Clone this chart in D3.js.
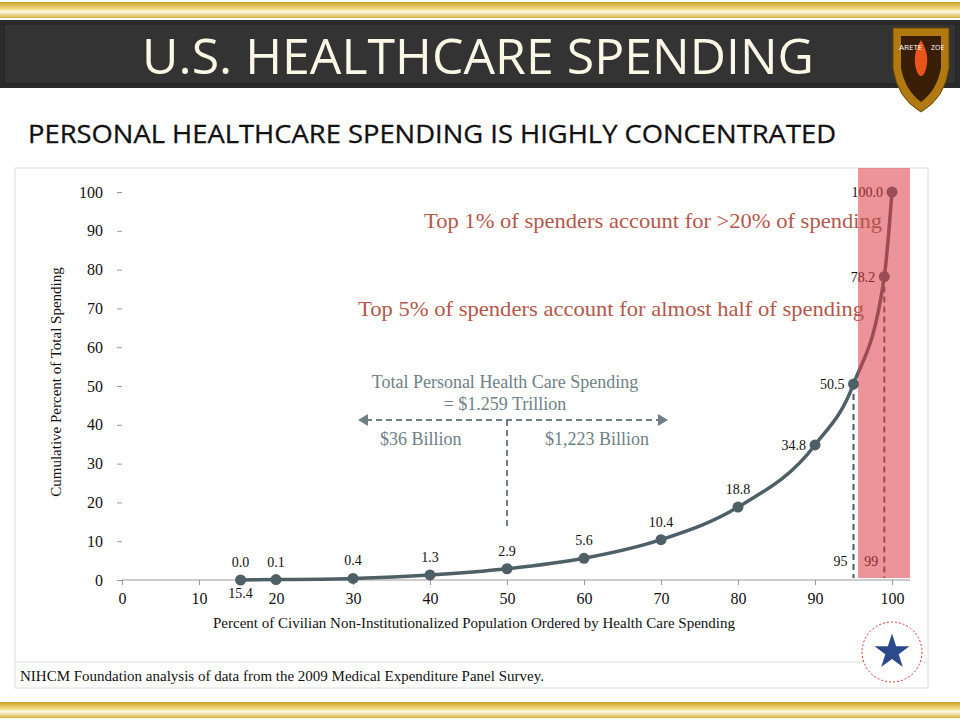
<!DOCTYPE html>
<html><head><meta charset="utf-8">
<script src="https://cdn.jsdelivr.net/npm/d3@7"></script>
<style>body{margin:0;background:#fff}svg{display:block}</style>
</head><body><div id="chart"></div>
<script>
const pctPop = [15.4, 20, 30, 40, 50, 60, 70, 80, 90, 95, 99, 100];
const cumSpend = [0.0, 0.1, 0.4, 1.3, 2.9, 5.6, 10.4, 18.8, 34.8, 50.5, 78.2, 100.0];
const xTicks = [0, 10, 20, 30, 40, 50, 60, 70, 80, 90, 100];
const yTicks = [0, 10, 20, 30, 40, 50, 60, 70, 80, 90, 100];

const svg = d3.select("#chart").append("svg").attr("width", 960).attr("height", 720);

// gold bars
const gold = svg.append("defs").append("linearGradient").attr("id", "gold").attr("x1", 0).attr("x2", 0).attr("y1", 0).attr("y2", 1);
gold.append("stop").attr("offset", "0%").attr("stop-color", "#c9a227");
gold.append("stop").attr("offset", "45%").attr("stop-color", "#f5e08a");
gold.append("stop").attr("offset", "60%").attr("stop-color", "#fffbe8");
gold.append("stop").attr("offset", "100%").attr("stop-color", "#d6b13a");
svg.append("rect").attr("x", 0).attr("y", 2).attr("width", 960).attr("height", 16).attr("fill", "url(#gold)");
svg.append("rect").attr("x", 0).attr("y", 702).attr("width", 960).attr("height", 16).attr("fill", "url(#gold)");

// title band
svg.append("rect").attr("x", 0).attr("y", 20).attr("width", 960).attr("height", 68).attr("fill", "#2b2b2b");
svg.append("rect").attr("x", 4).attr("y", 24).attr("width", 952).attr("height", 60).attr("fill", "#333").attr("stroke", "#222");
svg.append("text").attr("x", 478).attr("y", 74).attr("text-anchor", "middle")
  .attr("font-family", "Open Sans, sans-serif").attr("font-size", 50).attr("fill", "#fbf7e6")
  .text("U.S. HEALTHCARE SPENDING");

// logo shield
const logo = svg.append("g").attr("transform", "translate(921,68)");
logo.append("path").attr("d", "M-28,-40 L28,-40 L28,0 Q24,30 0,44 Q-24,30 -28,0 Z").attr("fill", "#b07a10").attr("stroke", "#6b4500");
logo.append("path").attr("d", "M-20,-32 L20,-32 L20,0 Q16,22 0,34 Q-16,22 -20,0 Z").attr("fill", "#3a1d05");
logo.append("path").attr("d", "M0,-28 Q10,-12 4,4 Q0,12 -4,4 Q-10,-12 0,-28Z").attr("fill", "#e8541a");
logo.append("text").attr("x", -22).attr("y", -18).attr("font-size", 8).attr("fill", "#fff").attr("font-family", "Open Sans").text("ARETE");
logo.append("text").attr("x", 10).attr("y", -18).attr("font-size", 7).attr("fill", "#fff").attr("font-family", "Open Sans").text("ZOE");

svg.append("text").attr("x", 28).attr("y", 143).attr("font-family", "Liberation Sans Narrow, Open Sans, sans-serif")
  .attr("font-size", 25).attr("fill", "#111").attr("textLength", 808).attr("lengthAdjust", "spacingAndGlyphs")
  .attr("stroke", "#111").attr("stroke-width", 0.3)
  .text("PERSONAL HEALTHCARE SPENDING IS HIGHLY CONCENTRATED");

// chart panel
svg.append("rect").attr("x", 15).attr("y", 168).attr("width", 913).attr("height", 520).attr("fill", "#fff").attr("stroke", "#ddd");

const x = d3.scaleLinear().domain([0, 100]).range([122, 892]);
const y = d3.scaleLinear().domain([0, 100]).range([580, 192]);
const serif = "Liberation Serif, Times New Roman, serif";

const xa = svg.append("g").attr("transform", "translate(0,580)")
  .call(d3.axisBottom(x).tickValues(xTicks).tickSize(5).tickPadding(8));
const ya = svg.append("g").attr("transform", "translate(122,0)")
  .call(d3.axisLeft(y).tickValues(yTicks).tickSize(5).tickPadding(14));
[xa, ya].forEach(a => {
  a.selectAll("path,line").attr("stroke", "#999");
  a.selectAll("text").attr("font-family", serif).attr("font-size", 16).attr("fill", "#111");
});
ya.select(".domain").remove();
xa.select(".domain").attr("d", "M122,0H910");

svg.append("text").attr("transform", "translate(61,382) rotate(-90)").attr("text-anchor", "middle")
  .attr("font-family", serif).attr("font-size", 15).attr("fill", "#111").text("Cumulative Percent of Total Spending");
svg.append("text").attr("x", 474).attr("y", 628).attr("text-anchor", "middle")
  .attr("font-family", serif).attr("font-size", 15).attr("fill", "#111")
  .text("Percent of Civilian Non-Institutionalized Population Ordered by Health Care Spending");

// dashed drop lines at 95 and 99
[95, 99].forEach((p, i) => {
  const v = cumSpend[pctPop.indexOf(p)];
  svg.append("line").attr("x1", x(p)).attr("x2", x(p)).attr("y1", y(v)).attr("y2", 578)
    .attr("stroke", "#4a5a60").attr("stroke-width", 2).attr("stroke-dasharray", "6,4");
  svg.append("text").attr("x", x(p) - 6).attr("y", 566).attr("text-anchor", "end")
    .attr("font-family", serif).attr("font-size", 14).attr("fill", "#111").text(p);
});

const line = d3.line().x((d, i) => x(pctPop[i])).y(d => y(d)).curve(d3.curveMonotoneX);
svg.append("path").datum(cumSpend).attr("d", line)
  .attr("fill", "none").attr("stroke", "#4f5f66").attr("stroke-width", 3.5);

svg.selectAll(".pt").data(cumSpend).enter().append("circle")
  .attr("cx", (d, i) => x(pctPop[i])).attr("cy", d => y(d)).attr("r", 5.5)
  .attr("fill", "#4f5f66");

svg.selectAll(".lbl").data(cumSpend).enter().append("text")
  .attr("x", (d, i) => pctPop[i] >= 90 ? x(pctPop[i]) - 9 : x(pctPop[i]))
  .attr("y", (d, i) => pctPop[i] >= 90 ? y(d) + 5 : y(d) - 13)
  .attr("text-anchor", (d, i) => pctPop[i] >= 90 ? "end" : "middle")
  .attr("font-family", serif).attr("font-size", 14).attr("fill", "#111")
  .text(d => d.toFixed(1));
svg.append("text").attr("x", x(15.4)).attr("y", 598).attr("text-anchor", "middle")
  .attr("font-family", serif).attr("font-size", 14).attr("fill", "#111").text("15.4");

// pink highlight band over the top 5%
svg.append("rect").attr("x", 858).attr("y", 168).attr("width", 52).attr("height", 410)
  .attr("fill", "#dc3c46").attr("opacity", 0.55);

// annotations
const red = "#b4574c";
svg.append("text").attr("x", 424).attr("y", 228).attr("font-family", serif).attr("font-size", 21).attr("fill", red)
  .attr("textLength", 458).attr("lengthAdjust", "spacingAndGlyphs")
  .text("Top 1% of spenders account for >20% of spending");
svg.append("text").attr("x", 358).attr("y", 316).attr("font-family", serif).attr("font-size", 21).attr("fill", red)
  .attr("textLength", 506).attr("lengthAdjust", "spacingAndGlyphs")
  .text("Top 5% of spenders account for almost half of spending");
const grey = "#6f7f86";
svg.append("text").attr("x", 505).attr("y", 388).attr("text-anchor", "middle").attr("font-family", serif).attr("font-size", 18).attr("fill", grey)
  .text("Total Personal Health Care Spending");
svg.append("text").attr("x", 505).attr("y", 410).attr("text-anchor", "middle").attr("font-family", serif).attr("font-size", 18).attr("fill", grey)
  .text("= $1.259 Trillion");
svg.append("line").attr("x1", 366).attr("x2", 660).attr("y1", 420).attr("y2", 420)
  .attr("stroke", grey).attr("stroke-width", 2).attr("stroke-dasharray", "6,4");
svg.append("path").attr("d", "M358,420 l10,-6 v12 Z").attr("fill", grey);
svg.append("path").attr("d", "M668,420 l-10,-6 v12 Z").attr("fill", grey);
svg.append("line").attr("x1", x(50)).attr("x2", x(50)).attr("y1", 420).attr("y2", 530)
  .attr("stroke", grey).attr("stroke-width", 2).attr("stroke-dasharray", "6,4");
svg.append("text").attr("x", 380).attr("y", 445).attr("font-family", serif).attr("font-size", 18).attr("fill", grey).text("$36 Billion");
svg.append("text").attr("x", 545).attr("y", 445).attr("font-family", serif).attr("font-size", 18).attr("fill", grey).text("$1,223 Billion");

svg.append("line").attr("x1", 15).attr("x2", 928).attr("y1", 662).attr("y2", 662).attr("stroke", "#ddd");
svg.append("text").attr("x", 20).attr("y", 681).attr("font-family", serif).attr("font-size", 15).attr("fill", "#111")
  .text("NIHCM Foundation analysis of data from the 2009 Medical Expenditure Panel Survey.");

// NIHCM seal
const seal = svg.append("g").attr("transform", "translate(892,652)");
seal.append("circle").attr("r", 30).attr("fill", "#fff").attr("stroke", "#c33").attr("stroke-width", 1).attr("stroke-dasharray", "2,2");
seal.append("path").attr("d", d3.symbol(d3.symbolStar, 380)).attr("fill", "#2a4a8a");
</script></body></html>
